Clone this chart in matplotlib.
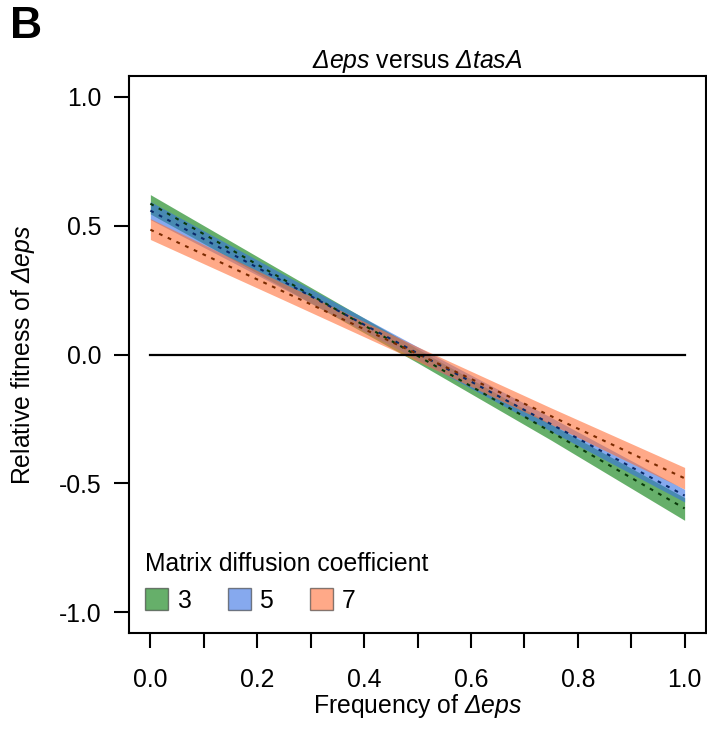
import matplotlib
matplotlib.use("Agg")
import matplotlib.pyplot as plt
from matplotlib.patches import Patch
from matplotlib.ticker import MultipleLocator

plt.rcParams['font.family'] = ['Liberation Sans', 'DejaVu Sans']
plt.rcParams['mathtext.fontset'] = 'custom'
plt.rcParams['mathtext.rm'] = 'Liberation Sans'
# bf slot used for italic so the capital delta is slanted too
plt.rcParams['mathtext.bf'] = 'Liberation Sans:italic'

# fitted relative fitness at these frequencies
freq = [0.0, 0.25, 0.5, 0.75, 1.0]

fit3 = [0.585, 0.290, -0.005, -0.300, -0.597]
hi3 = [0.620, 0.320, 0.022, -0.270, -0.555]
lo3 = [0.545, 0.258, -0.032, -0.332, -0.643]

fit5 = [0.558, 0.282, 0.005, -0.270, -0.547]
hi5 = [0.593, 0.310, 0.030, -0.244, -0.523]
lo5 = [0.523, 0.254, -0.020, -0.298, -0.572]

fit7 = [0.484, 0.243, 0.002, -0.239, -0.480]
hi7 = [0.527, 0.275, 0.030, -0.207, -0.438]
lo7 = [0.446, 0.211, -0.026, -0.271, -0.522]

coefs = ['3', '5', '7']
band_cols = ['#007b07', '#3571e3', '#ff7139']
line_cols = ['#0a3a0a', '#0a2a6a', '#7a2a00']

fs = 17.8
fig = plt.figure(figsize=(7.07, 7.49), dpi=100)
ax = fig.add_axes([129 / 707, 1 - 633 / 749, (706 - 129) / 707, (633 - 76) / 749])

fits = [fit3, fit5, fit7]
his = [hi3, hi5, hi7]
los = [lo3, lo5, lo7]
for i in range(3):
    ax.fill_between(freq, los[i], his[i], color=band_cols[i], alpha=0.6, lw=0)
for i in range(3):
    ax.plot(freq, fits[i], color=line_cols[i], lw=1.5, dashes=(1.8, 2.8))

ax.plot([0, 1], [0, 0], color='black', lw=1.6)

ax.set_xlim(-0.04, 1.04)
ax.set_ylim(-1.08, 1.08)
ax.xaxis.set_major_locator(MultipleLocator(0.2))
ax.xaxis.set_minor_locator(MultipleLocator(0.1))
ax.set_yticks([1.0, 0.5, 0.0, -0.5, -1.0])
ax.set_xticklabels(['%.1f' % v for v in ax.get_xticks()])
ax.set_yticklabels(['1.0', '0.5', '0.0', '-0.5', '-1.0'])
ax.tick_params(axis='both', which='both', direction='out', length=11, width=1.5, labelsize=fs)
ax.tick_params(axis='x', which='both', pad=14)
ax.tick_params(axis='y', pad=9)
ax.xaxis.set_minor_formatter(plt.NullFormatter())
for s in ax.spines.values():
    s.set_linewidth(1.5)

ax.set_title(r'$\mathbf{Δeps}$ versus $\mathbf{ΔtasA}$', fontsize=fs, pad=6)
fig.text(418 / 707, 1 - 706 / 749, r'Frequency of $\mathbf{Δeps}$', fontsize=fs,
         ha='center', va='center')
fig.text(23 / 707, 1 - 355 / 749, r'Relative fitness of $\mathbf{Δeps}$', fontsize=fs,
         ha='center', va='center', rotation=90)
fig.text(10 / 707, 1 - 27 / 749, 'B', fontsize=32, fontweight='bold', ha='left', va='center')

handles = [Patch(facecolor=band_cols[i], alpha=0.6, edgecolor='#333333', lw=1.0) for i in range(3)]
leg = ax.legend(handles, coefs, title='Matrix diffusion coefficient', ncol=3,
                loc='upper left', bbox_to_anchor=(145 / 707, 1 - 552 / 749),
                bbox_transform=fig.transFigure, frameon=False, fontsize=fs,
                title_fontsize=fs, handlelength=0.93, handleheight=1.0,
                handletextpad=0.35, columnspacing=1.5, borderpad=0, borderaxespad=0,
                alignment='left')
for h in leg.legend_handles:
    h.set_edgecolor('#333333')

fig.savefig('out.png', dpi=100)
